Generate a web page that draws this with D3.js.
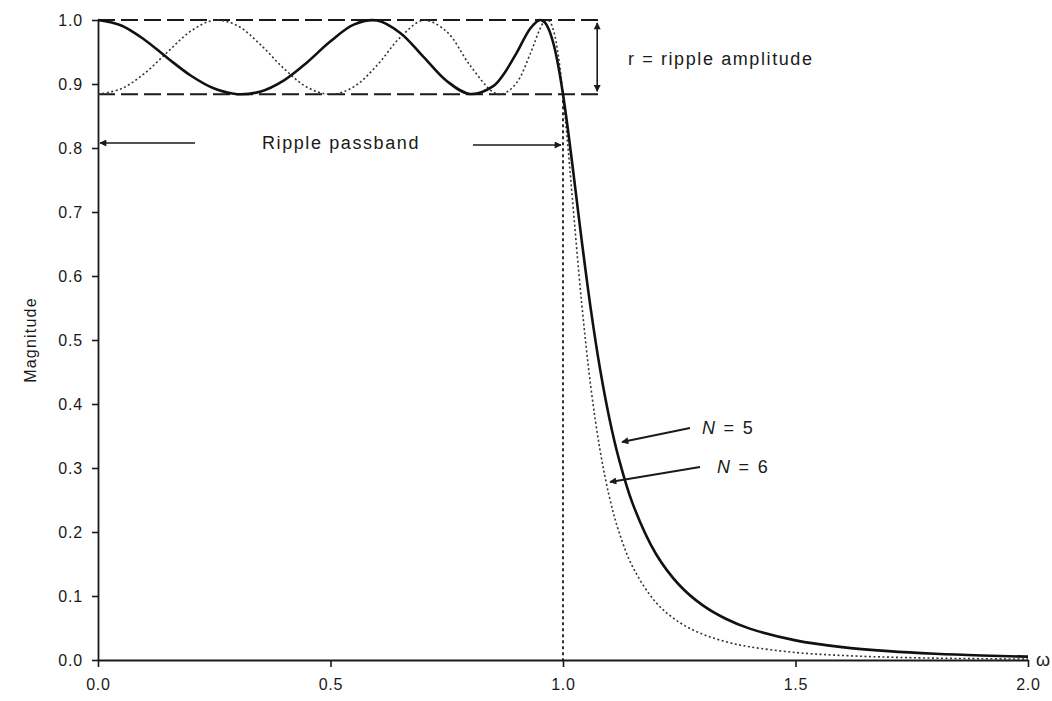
<!DOCTYPE html>
<html>
<head>
<meta charset="utf-8">
<script src="https://cdn.jsdelivr.net/npm/d3@7"></script>
<style>
  html, body { margin: 0; padding: 0; background: #fff; }
  svg { display: block; font-family: "Liberation Sans", Arial, Helvetica, sans-serif; }
</style>
</head>
<body>
<svg id="chart" width="1052" height="701"></svg>
<script>
// ---- data ----
const omega = [0, 0.05, 0.1, 0.15, 0.2, 0.25, 0.3, 0.35, 0.4, 0.45, 0.5, 0.55, 0.6, 0.65, 0.7, 0.75, 0.8, 0.85, 0.87, 0.9, 0.93, 0.95, 0.96, 0.97, 0.98, 0.99, 1.0, 1.01, 1.02, 1.04, 1.06, 1.08, 1.1, 1.12, 1.15, 1.2, 1.25, 1.3, 1.35, 1.4, 1.5, 1.6, 1.7, 1.8, 1.9, 2.0];
const magN5 = [1.0, 0.9915, 0.9692, 0.9403, 0.9129, 0.8929, 0.8841, 0.8884, 0.9058, 0.934, 0.9667, 0.9928, 0.9992, 0.9798, 0.9424, 0.9046, 0.8844, 0.8967, 0.9128, 0.9483, 0.9871, 1.0, 0.9968, 0.9845, 0.9617, 0.9278, 0.8839, 0.832, 0.775, 0.6569, 0.5471, 0.4534, 0.3766, 0.3148, 0.2439, 0.1656, 0.1172, 0.0857, 0.0644, 0.0494, 0.0307, 0.0201, 0.0138, 0.0097, 0.007, 0.0052];
const magN6 = [0.8839, 0.8925, 0.9165, 0.9503, 0.9828, 0.9996, 0.9911, 0.961, 0.924, 0.8949, 0.8839, 0.8956, 0.9291, 0.9728, 0.9995, 0.9817, 0.9291, 0.8873, 0.8843, 0.9016, 0.948, 0.9852, 0.9976, 0.9987, 0.9823, 0.944, 0.8839, 0.8073, 0.7227, 0.5587, 0.4256, 0.3265, 0.254, 0.201, 0.1453, 0.0899, 0.0589, 0.0404, 0.0286, 0.0208, 0.0117, 0.0071, 0.0045, 0.0029, 0.002, 0.0014];
const xTicks = [0, 0.5, 1.0, 1.5, 2.0];
const yTicks = [0, 0.1, 0.2, 0.3, 0.4, 0.5, 0.6, 0.7, 0.8, 0.9, 1.0];
const rippleLevels = [1.0, 0.884];
const rippleBandEnd = 1.0;     // passband edge
const rippleBoxEnd = 1.08;     // dashed guides extend to here
const passbandLabel = "Ripple passband";
const rippleLabel = "r = ripple amplitude";
const seriesLabels = ["5", "6"];

// ---- layout ----
const svg = d3.select("#chart");
const x = d3.scaleLinear().domain([0, 2]).range([98, 1028]);
const y = d3.scaleLinear().domain([0, 1]).range([660, 20]);
const ink = "#1a1a1a";

const defs = svg.append("defs");
defs.append("marker").attr("id", "arr").attr("viewBox", "0 0 10 10")
  .attr("refX", 9).attr("refY", 5).attr("markerWidth", 9).attr("markerHeight", 7)
  .attr("markerUnits", "userSpaceOnUse").attr("orient", "auto-start-reverse")
  .append("path").attr("d", "M0,0 L10,5 L0,10 z").attr("fill", ink);

// axes
const xAxis = svg.append("g").attr("transform", `translate(0,${y(0)})`)
  .call(d3.axisBottom(x).tickValues(xTicks).tickFormat(d3.format(".1f")).tickSize(7).tickSizeOuter(0).tickPadding(12));
const yAxis = svg.append("g").attr("transform", `translate(${x(0)},0)`)
  .call(d3.axisLeft(y).tickValues(yTicks).tickFormat(d3.format(".1f")).tickSize(6).tickSizeOuter(0).tickPadding(9));
[xAxis, yAxis].forEach(g => {
  g.select(".domain").attr("stroke", ink).attr("stroke-width", 1.8);
  g.selectAll(".tick line").attr("stroke", ink).attr("stroke-width", 1.6);
  g.selectAll(".tick text").attr("fill", ink).attr("font-size", 16).attr("letter-spacing", 0.8)
    .attr("font-family", "Liberation Sans, Arial, sans-serif");
});

// axis titles
svg.append("text").attr("transform", `translate(36,${y(0.5)}) rotate(-90)`)
  .attr("text-anchor", "middle").attr("font-size", 16).attr("letter-spacing", 1.2).attr("fill", ink).text("Magnitude");
svg.append("text").attr("x", x(2) + 8).attr("y", y(0) + 6)
  .attr("font-size", 18).attr("fill", ink).text("ω");

// ripple guides
svg.selectAll("line.ripple").data(rippleLevels).enter().append("line")
  .attr("class", "ripple")
  .attr("x1", x(0)).attr("x2", x(rippleBoxEnd))
  .attr("y1", d => y(d)).attr("y2", d => y(d))
  .attr("stroke", ink).attr("stroke-width", 2).attr("stroke-dasharray", "17,6");

// ripple amplitude double arrow
svg.append("line").attr("x1", x(rippleBoxEnd) - 3).attr("x2", x(rippleBoxEnd) - 3)
  .attr("y1", y(rippleLevels[0]) + 3).attr("y2", y(rippleLevels[1]) - 3)
  .attr("stroke", ink).attr("stroke-width", 1.6)
  .attr("marker-start", "url(#arr)").attr("marker-end", "url(#arr)");
svg.append("text").attr("x", 628).attr("y", 65).attr("font-size", 18).attr("letter-spacing", 1.6)
  .attr("fill", ink).text(rippleLabel);

// passband edge dotted vertical
svg.append("line").attr("x1", x(rippleBandEnd)).attr("x2", x(rippleBandEnd))
  .attr("y1", y(rippleLevels[1])).attr("y2", y(0))
  .attr("stroke", ink).attr("stroke-width", 1.8).attr("stroke-dasharray", "3,3");

// ripple passband label and arrows
const pbY = 143;
svg.append("text").attr("x", 341).attr("y", pbY + 6).attr("text-anchor", "middle")
  .attr("font-size", 18).attr("letter-spacing", 1.6).attr("fill", ink).text(passbandLabel);
svg.append("line").attr("x1", 195).attr("x2", x(0) + 2).attr("y1", pbY).attr("y2", pbY)
  .attr("stroke", ink).attr("stroke-width", 1.6).attr("marker-end", "url(#arr)");
svg.append("line").attr("x1", 473).attr("x2", x(rippleBandEnd) - 2).attr("y1", pbY + 2).attr("y2", pbY + 2)
  .attr("stroke", ink).attr("stroke-width", 1.6).attr("marker-end", "url(#arr)");

// curves
const line = d3.line().curve(d3.curveCatmullRom.alpha(0.5));
const ptsN6 = omega.map((w, i) => [x(w), y(magN6[i])]);
const ptsN5 = omega.map((w, i) => [x(w), y(magN5[i])]);
svg.append("path").attr("d", line(ptsN6)).attr("fill", "none")
  .attr("stroke", "#333").attr("stroke-width", 1.6).attr("stroke-dasharray", "2,2.5");
svg.append("path").attr("d", line(ptsN5)).attr("fill", "none")
  .attr("stroke", "#111").attr("stroke-width", 2.6);

// series labels
function nLabel(tx, ty, val) {
  const t = svg.append("text").attr("x", tx).attr("y", ty).attr("font-size", 18)
    .attr("letter-spacing", 1.8).attr("fill", ink);
  t.append("tspan").attr("font-style", "italic").text("N");
  t.append("tspan").text(" = " + val);
}
nLabel(702, 434, seriesLabels[0]);
nLabel(717, 473, seriesLabels[1]);
svg.append("line").attr("x1", 690).attr("y1", 428).attr("x2", 622).attr("y2", 442)
  .attr("stroke", ink).attr("stroke-width", 1.8).attr("marker-end", "url(#arr)");
svg.append("line").attr("x1", 700).attr("y1", 467).attr("x2", 610).attr("y2", 482)
  .attr("stroke", ink).attr("stroke-width", 1.8).attr("marker-end", "url(#arr)");
</script>
</body>
</html>
